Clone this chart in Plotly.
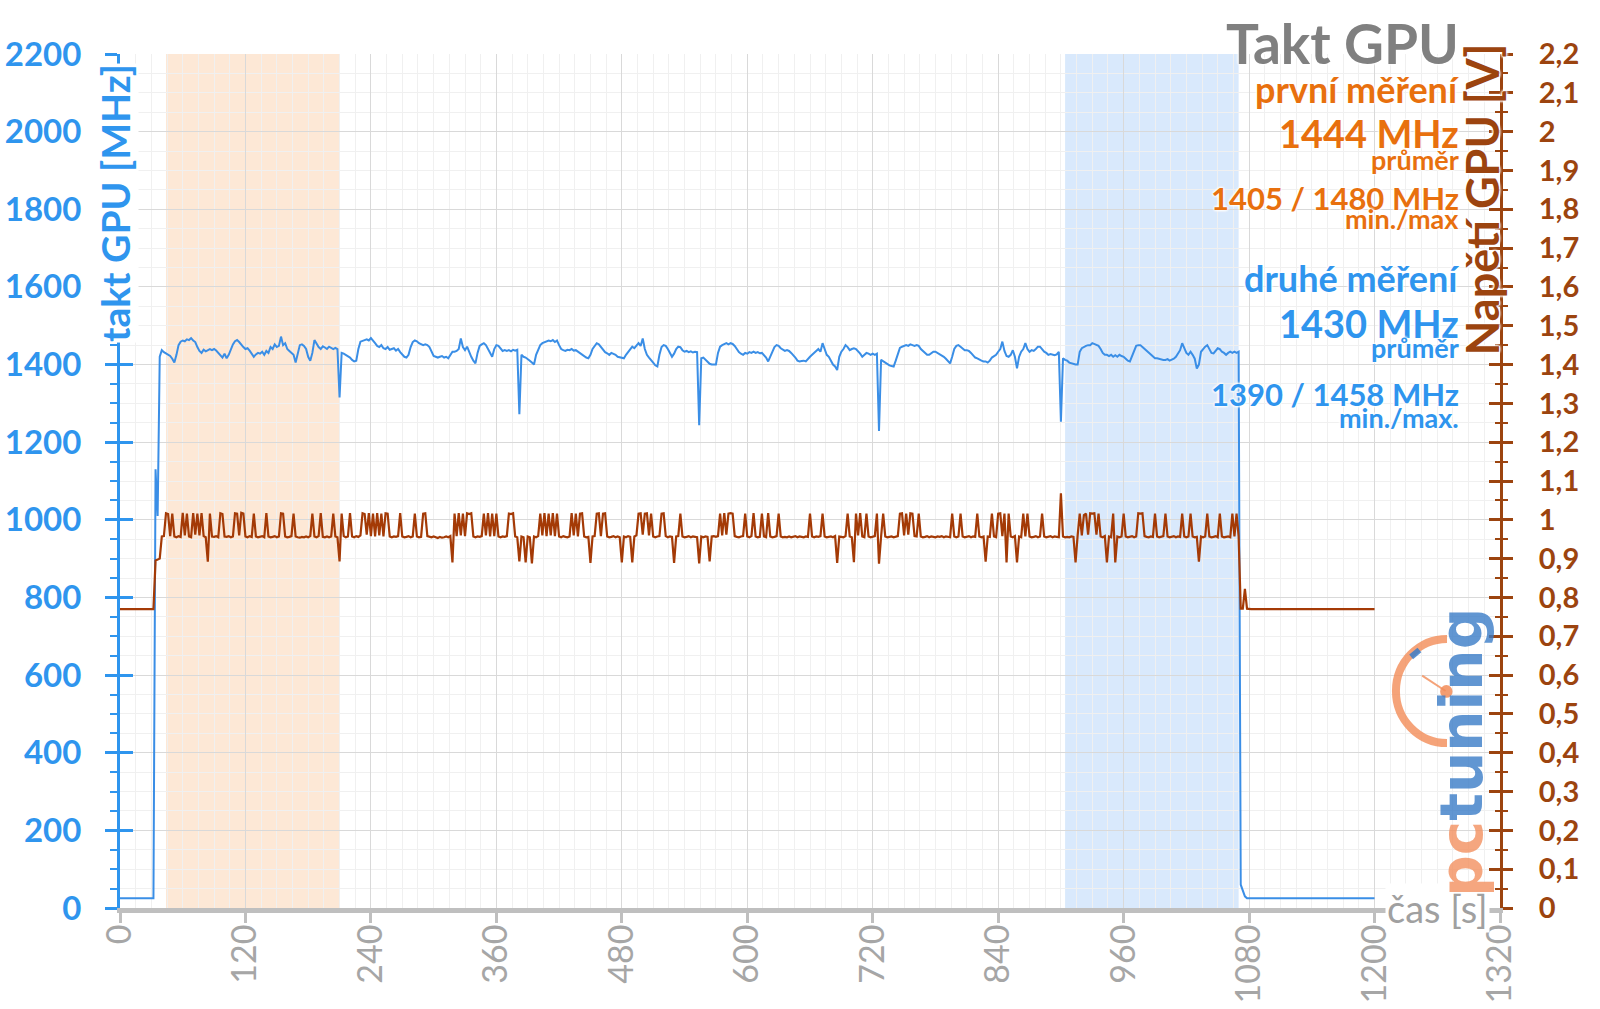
import plotly.graph_objects as go

# ---------------- data ----------------
time_step_s = 2
time_s = list(range(0, 1201, time_step_s))

clock_mhz = [
    25, 25, 25, 25, 25, 25, 25, 25, 25, 25,
    25, 25, 25, 25, 25, 25, 25, 1130, 1010, 1420,
    1437, 1432, 1428, 1425, 1422, 1415, 1405, 1425, 1450, 1459,
    1462, 1460, 1465, 1463, 1468, 1462, 1458, 1445, 1435, 1430,
    1438, 1434, 1436, 1440, 1437, 1440, 1436, 1430, 1425, 1418,
    1428, 1416, 1425, 1440, 1452, 1460, 1463, 1458, 1450, 1445,
    1440, 1442, 1436, 1428, 1420, 1426, 1430, 1428, 1433, 1425,
    1435, 1430, 1445, 1440, 1452, 1445, 1448, 1472, 1450, 1455,
    1440, 1435, 1430, 1425, 1405, 1430, 1450, 1452, 1448, 1440,
    1420, 1410, 1430, 1463, 1452, 1445, 1440, 1447, 1444, 1440,
    1446, 1442, 1440, 1443, 1440, 1315, 1430, 1428, 1425, 1420,
    1418, 1412, 1408, 1410, 1440, 1459, 1462, 1463, 1465, 1462,
    1468, 1460, 1455, 1448, 1445, 1450, 1442, 1440, 1445, 1438,
    1440, 1442, 1436, 1440, 1432, 1425, 1420, 1418, 1425, 1445,
    1458, 1462, 1460, 1455, 1452, 1450, 1452, 1450, 1445, 1435,
    1422, 1420, 1418, 1420, 1422, 1418, 1420, 1416, 1425, 1433,
    1433, 1435, 1440, 1467, 1445, 1437, 1446, 1430, 1420, 1410,
    1403, 1430, 1448, 1452, 1455, 1450, 1440, 1430, 1420, 1440,
    1450, 1448, 1440, 1435, 1437, 1435, 1437, 1434, 1438, 1436,
    1438, 1272, 1425, 1420, 1418, 1415, 1410, 1405, 1400, 1425,
    1440, 1450, 1455, 1458, 1460, 1462, 1460, 1463, 1458, 1462,
    1450, 1440, 1437, 1435, 1438, 1437, 1440, 1436, 1437, 1433,
    1430, 1425, 1420, 1418, 1416, 1425, 1440, 1448, 1455, 1452,
    1445, 1438, 1432, 1429, 1425, 1430, 1428, 1425, 1420, 1418,
    1418, 1416, 1425, 1433, 1440, 1446, 1442, 1450, 1455, 1448,
    1467, 1440, 1425, 1418, 1410, 1405, 1398, 1395, 1425, 1445,
    1450, 1448, 1440, 1430, 1420, 1428, 1440, 1446, 1445, 1437,
    1433, 1435, 1432, 1434, 1431, 1433, 1432, 1244, 1416, 1418,
    1412, 1408, 1402, 1400, 1399, 1400, 1430, 1446, 1450, 1452,
    1455, 1452, 1455, 1453, 1448, 1440, 1432, 1428, 1425, 1430,
    1428, 1432, 1430, 1433, 1430, 1432, 1429, 1430, 1425, 1418,
    1408, 1420, 1435, 1445, 1450, 1448, 1442, 1438, 1435, 1437,
    1435, 1430, 1425, 1418, 1410, 1408, 1409, 1410, 1408, 1415,
    1420, 1425, 1430, 1433, 1440, 1433, 1455, 1440, 1425, 1420,
    1410, 1400, 1395, 1386, 1420, 1433, 1440, 1450, 1445, 1437,
    1440, 1442, 1440, 1435, 1428, 1420, 1425, 1430, 1428, 1425,
    1428, 1425, 1428, 1229, 1412, 1408, 1405, 1402, 1398, 1396,
    1395, 1410, 1430, 1443, 1446, 1448, 1450, 1448, 1452, 1450,
    1448, 1450, 1448, 1440, 1435, 1430, 1425, 1425, 1430, 1433,
    1433, 1430, 1428, 1425, 1420, 1415, 1408, 1403, 1420, 1440,
    1448, 1450, 1446, 1442, 1437, 1437, 1435, 1430, 1425, 1418,
    1416, 1412, 1410, 1408, 1408, 1405, 1410, 1418, 1422, 1425,
    1433, 1440, 1459, 1435, 1422, 1420, 1425, 1437, 1420, 1390,
    1420, 1433, 1440, 1455, 1440, 1433, 1437, 1435, 1440, 1446,
    1446, 1440, 1433, 1430, 1425, 1427, 1425, 1424, 1426, 1433,
    1253, 1416, 1412, 1410, 1405, 1403, 1402, 1400, 1400, 1433,
    1442, 1446, 1448, 1450, 1450, 1455, 1452, 1450, 1448, 1440,
    1430, 1425, 1425, 1422, 1425, 1420, 1424, 1420, 1425, 1422,
    1420, 1415, 1410, 1408, 1420, 1435, 1448, 1450, 1450, 1445,
    1440, 1437, 1430, 1425, 1420, 1416, 1416, 1414, 1412, 1412,
    1412, 1414, 1410, 1412, 1415, 1420, 1430, 1437, 1455, 1440,
    1430, 1425, 1433, 1425, 1415, 1390, 1400, 1433, 1440, 1446,
    1450, 1440, 1430, 1429, 1437, 1442, 1440, 1433, 1430, 1425,
    1430, 1433, 1430, 1433, 1430, 1433, 60, 45, 30, 25,
    25, 25, 25, 25, 25, 25, 25, 25, 25, 25,
    25, 25, 25, 25, 25, 25, 25, 25, 25, 25,
    25, 25, 25, 25, 25, 25, 25, 25, 25, 25,
    25, 25, 25, 25, 25, 25, 25, 25, 25, 25,
    25, 25, 25, 25, 25, 25, 25, 25, 25, 25,
    25, 25, 25, 25, 25, 25, 25, 25, 25, 25,
    25,
]

voltage_mv = [
    770, 770, 770, 770, 770, 770, 770, 770, 770, 770,
    770, 770, 770, 770, 770, 770, 770, 895, 897, 900,
    957, 958, 1017, 1015, 958, 1016, 957, 955, 958, 956,
    1018, 960, 1016, 957, 955, 1017, 962, 1016, 960, 1017,
    958, 955, 892, 1016, 957, 956, 958, 955, 1017, 1015,
    957, 956, 958, 955, 957, 1017, 1016, 960, 1018, 1016,
    957, 955, 958, 956, 1016, 957, 955, 956, 958, 955,
    1017, 957, 955, 956, 958, 955, 957, 1017, 1016, 957,
    955, 956, 958, 1016, 957, 955, 954, 956, 955, 957,
    955, 958, 1016, 957, 955, 958, 1017, 956, 955, 957,
    955, 957, 1016, 957, 955, 893, 1016, 958, 955, 957,
    1017, 957, 955, 958, 956, 960, 1017, 1015, 962, 1017,
    958, 1016, 957, 1017, 960, 1016, 957, 1017, 1016, 957,
    955, 957, 956, 958, 1017, 957, 955, 956, 958, 955,
    957, 1016, 957, 955, 956, 1016, 1017, 958, 956, 955,
    957, 955, 953, 956, 954, 955, 957, 955, 958, 890,
    1016, 958, 1017, 960, 1016, 958, 1017, 1015, 1017, 957,
    955, 957, 956, 958, 1016, 960, 1017, 957, 1016, 958,
    1016, 957, 955, 957, 956, 958, 1016, 1015, 1017, 957,
    955, 893, 957, 955, 890, 957, 955, 888, 957, 955,
    958, 1016, 960, 1017, 958, 1016, 960, 1017, 958, 1016,
    957, 955, 958, 956, 955, 957, 1017, 960, 1016, 957,
    1016, 1017, 957, 955, 956, 889, 957, 958, 1016, 1017,
    958, 1016, 1017, 957, 955, 956, 958, 955, 957, 955,
    890, 957, 955, 958, 956, 890, 957, 960, 1016, 1017,
    962, 1016, 1017, 960, 1016, 957, 955, 957, 958, 1016,
    1017, 958, 955, 957, 956, 889, 957, 958, 1016, 957,
    955, 956, 958, 955, 957, 956, 955, 888, 957, 955,
    957, 956, 893, 957, 958, 956, 958, 1016, 960, 1017,
    962, 1016, 1017, 1016, 958, 956, 955, 957, 958, 1016,
    957, 955, 958, 1017, 957, 955, 956, 1016, 957, 955,
    1017, 957, 955, 956, 958, 1016, 957, 955, 956, 955,
    957, 955, 956, 958, 955, 957, 956, 955, 957, 956,
    1016, 957, 955, 957, 956, 958, 1016, 957, 955, 956,
    957, 955, 958, 889, 957, 956, 955, 958, 1016, 957,
    955, 891, 1016, 960, 1017, 957, 955, 1016, 957, 955,
    956, 958, 1016, 887, 957, 1016, 957, 955, 956, 957,
    955, 957, 958, 1016, 1017, 960, 1016, 962, 1017, 1016,
    958, 957, 1016, 957, 955, 956, 958, 955, 957, 956,
    955, 957, 956, 958, 955, 957, 956, 955, 1016, 957,
    955, 957, 1016, 957, 955, 956, 958, 955, 957, 956,
    1016, 957, 955, 957, 892, 957, 956, 1016, 957, 955,
    1016, 1017, 958, 1016, 890, 1016, 957, 955, 958, 890,
    957, 955, 1016, 957, 1016, 957, 955, 956, 958, 955,
    957, 1016, 957, 955, 956, 958, 955, 957, 956, 955,
    1068, 957, 955, 956, 955, 957, 956, 890, 960, 1016,
    960, 1012, 1016, 962, 1017, 1016, 1017, 962, 1016, 957,
    955, 958, 890, 957, 955, 1016, 890, 957, 955, 957,
    1016, 957, 955, 956, 958, 955, 957, 1017, 1016, 1017,
    958, 956, 955, 957, 956, 1016, 957, 955, 956, 958,
    1016, 957, 955, 956, 958, 955, 957, 956, 1016, 957,
    955, 957, 1016, 957, 955, 956, 892, 957, 955, 957,
    1016, 957, 955, 956, 958, 955, 1016, 957, 955, 956,
    957, 955, 1016, 957, 1016, 957, 771, 771, 822, 771,
    770, 770, 770, 770, 770, 770, 770, 770, 770, 770,
    770, 770, 770, 770, 770, 770, 770, 770, 770, 770,
    770, 770, 770, 770, 770, 770, 770, 770, 770, 770,
    770, 770, 770, 770, 770, 770, 770, 770, 770, 770,
    770, 770, 770, 770, 770, 770, 770, 770, 770, 770,
    770, 770, 770, 770, 770, 770, 770, 770, 770, 770,
    770,
]

band_first_s = [44, 210]     # "první měření" window
band_second_s = [904, 1070]  # "druhé měření" window

x_tick_step_s = 120
x_range_s = [0, 1320]
clock_range_mhz = [0, 2200]
clock_tick_step = 200
volt_range_v = [0, 2.2]
volt_tick_vals = [0, 0.1, 0.2, 0.3, 0.4, 0.5, 0.6, 0.7, 0.8, 0.9, 1.0,
                  1.1, 1.2, 1.3, 1.4, 1.5, 1.6, 1.7, 1.8, 1.9, 2.0, 2.1, 2.2]
volt_tick_text = ["0", "0,1", "0,2", "0,3", "0,4", "0,5", "0,6", "0,7", "0,8", "0,9", "1",
                  "1,1", "1,2", "1,3", "1,4", "1,5", "1,6", "1,7", "1,8", "1,9", "2", "2,1", "2,2"]

title_text = "Takt GPU"
first_label = ["první měření", "1444 MHz", "průměr", "1405 / 1480 MHz", "min./max"]
second_label = ["druhé měření", "1430 MHz", "průměr", "1390 / 1458 MHz", "min./max."]

voltage_v = [v / 1000 for v in voltage_mv]

# ---------------- style ----------------
FONT = "Lato"
BLUE = "#2f95ee"
BLUE_LINE = "#3a8ee6"
BROWN = "#9c440f"
BROWN_LINE = "#a43a06"
ORANGE = "#e8700e"
GRAY_AX = "#bfbfbf"
GRID = "#d9d9d9"
GRID_MINOR = "#f0f0f0"
HALO = "0px 0px 3px #fff, 0px 0px 3px #fff, 0px 0px 3px #fff, 0px 0px 3px #fff"

fig = go.Figure()
fig.add_trace(go.Scatter(x=time_s, y=clock_mhz, mode="lines",
                         line=dict(color=BLUE_LINE, width=2),
                         yaxis="y", showlegend=False, hoverinfo="skip"))
fig.add_trace(go.Scatter(x=time_s, y=voltage_v, mode="lines",
                         line=dict(color=BROWN_LINE, width=2.2),
                         yaxis="y2", showlegend=False, hoverinfo="skip"))
# empty traces so the overlay tick axes are drawn
fig.add_trace(go.Scatter(x=[], y=[], yaxis="y3", showlegend=False, hoverinfo="skip"))
fig.add_trace(go.Scatter(x=[], y=[], yaxis="y4", showlegend=False, hoverinfo="skip"))

fig.update_layout(
    width=1600, height=1009,
    margin=dict(l=120, r=100, t=54, b=101, pad=0, autoexpand=False),
    paper_bgcolor="white", plot_bgcolor="white",
    font=dict(family=FONT),
    showlegend=False,
    xaxis=dict(
        range=x_range_s, tick0=0, dtick=x_tick_step_s, automargin=False,
        ticks="outside", ticklen=10, tickwidth=3, tickcolor=GRAY_AX,
        tickangle=-90, tickfont=dict(family=FONT, size=34, color="#a6a6a6"),
        ticklabelstandoff=-12,
        showline=True, linecolor=GRAY_AX, linewidth=5,
        showgrid=True, gridcolor=GRID, gridwidth=1, zeroline=False,
        minor=dict(dtick=15, tick0=0, showgrid=True, gridcolor=GRID_MINOR, gridwidth=1),
    ),
    yaxis=dict(
        range=clock_range_mhz, tick0=0, dtick=clock_tick_step, automargin=False,
        ticks="outside", ticklen=12, tickwidth=3, tickcolor=BLUE,
        tickfont=dict(family=FONT, size=33, color=BLUE, weight="bold"),
        ticklabelstandoff=17,
        showline=True, linecolor=BLUE, linewidth=3,
        showgrid=True, gridcolor=GRID, gridwidth=1, zeroline=False,
        minor=dict(dtick=50, tick0=0, ticks="outside", ticklen=7, tickwidth=2,
                   tickcolor=BLUE, showgrid=True, gridcolor=GRID_MINOR, gridwidth=1),
    ),
    yaxis2=dict(
        overlaying="y", side="right", anchor="x", range=volt_range_v, automargin=False,
        tickmode="array", tickvals=volt_tick_vals, ticktext=volt_tick_text,
        ticks="outside", ticklen=10, tickwidth=3, tickcolor=BROWN,
        tickfont=dict(family=FONT, size=29, color=BROWN, weight="bold"),
        ticklabelstandoff=20,
        showline=True, linecolor=BROWN, linewidth=3,
        showgrid=False, zeroline=False,
        minor=dict(dtick=0.05, tick0=0, ticks="outside", ticklen=5, tickwidth=2,
                   tickcolor=BROWN, showgrid=False),
    ),
    yaxis3=dict(
        overlaying="y", side="left", anchor="x", range=clock_range_mhz, automargin=False,
        tick0=0, dtick=clock_tick_step, ticks="inside", ticklen=13, tickwidth=3,
        tickcolor=BLUE, showticklabels=False, showgrid=False, showline=False,
        zeroline=False,
    ),
    yaxis4=dict(
        overlaying="y", side="right", anchor="x", range=volt_range_v, automargin=False,
        tick0=0, dtick=0.1, ticks="inside", ticklen=11, tickwidth=3,
        tickcolor=BROWN, showticklabels=False, showgrid=False, showline=False,
        zeroline=False,
        minor=dict(dtick=0.05, tick0=0, ticks="inside", ticklen=5, tickwidth=2,
                   tickcolor=BROWN, showgrid=False),
    ),
)

# shaded measurement windows
fig.add_shape(type="rect", xref="x", yref="paper", x0=band_first_s[0], x1=band_first_s[1],
              y0=0, y1=1, fillcolor="rgba(251,213,181,0.55)", line=dict(width=0), layer="below")
fig.add_shape(type="rect", xref="x", yref="paper", x0=band_second_s[0], x1=band_second_s[1],
              y0=0, y1=1, fillcolor="rgba(180,212,250,0.5)", line=dict(width=0), layer="below")

# ---- logo decoration (gauge) ----
cx, cy, rx, ry, k = 0.9616, 0.2541, 0.0370, 0.0610, 0.5523
arc = (f"M {cx},{cy+ry} C {cx-k*rx},{cy+ry} {cx-rx},{cy+k*ry} {cx-rx},{cy} "
       f"C {cx-rx},{cy-k*ry} {cx-k*rx},{cy-ry} {cx},{cy-ry}")
fig.add_shape(type="path", xref="paper", yref="paper", path=arc,
              line=dict(color="rgba(242,140,88,0.8)", width=8))
fig.add_shape(type="line", xref="paper", yref="paper", x0=cx - 0.001, y0=cy,
              x1=cx - 0.018, y1=cy + 0.018, line=dict(color="rgba(242,140,88,0.8)", width=2))
fig.add_shape(type="circle", xref="paper", yref="paper", x0=cx - 0.005, x1=cx + 0.004,
              y0=cy - 0.008, y1=cy + 0.007, fillcolor="rgba(242,140,88,0.85)", line=dict(width=0))
fig.add_shape(type="line", xref="paper", yref="paper", x0=cx - 0.026, y0=cy + 0.04,
              x1=cx - 0.020, y1=cy + 0.048, line=dict(color="rgba(58,124,200,0.85)", width=6))

ann = []
# axis titles
ann.append(dict(text="takt GPU [MHz]", xref="paper", yref="paper", x=-0.0036, y=0.8255,
                xanchor="center", yanchor="middle", textangle=-90, showarrow=False,
                bgcolor="white", borderpad=0,
                font=dict(family=FONT, size=39, color=BLUE, weight="bold", shadow=HALO)))
ann.append(dict(text="Napětí GPU [V]", xref="paper", yref="paper", x=0.987, y=0.830,
                xanchor="center", yanchor="middle", textangle=-90, showarrow=False,
                font=dict(family=FONT, size=45, color=BROWN, weight="bold", shadow=HALO)))
ann.append(dict(text="čas [s]", xref="x", yref="y", x=1210, y=0,
                xanchor="left", yanchor="middle", showarrow=False, bgcolor="white",
                font=dict(family=FONT, size=38, color="#a0a0a0")))

# title and stats block (right aligned)
xr = 0.9715
ann.append(dict(text=title_text, xref="paper", yref="paper", x=xr, y=1.013,
                xanchor="right", yanchor="middle", showarrow=False,
                font=dict(family=FONT, size=55, color="#808080", weight="bold", shadow=HALO)))
stat_sizes = [36, 38, 27, 31, 27]
first_y = [0.9593, 0.9077, 0.8759, 0.8315, 0.8071]
second_y = [0.7379, 0.6850, 0.6569, 0.6022, 0.5738]
for txt, yy, sz in zip(first_label, first_y, stat_sizes):
    ann.append(dict(text=txt, xref="paper", yref="paper", x=xr, y=yy,
                    xanchor="right", yanchor="middle", showarrow=False,
                    font=dict(family=FONT, size=sz, color=ORANGE, weight="bold", shadow=HALO)))
for txt, yy, sz in zip(second_label, second_y, stat_sizes):
    ann.append(dict(text=txt, xref="paper", yref="paper", x=xr, y=yy,
                    xanchor="right", yanchor="middle", showarrow=False,
                    font=dict(family=FONT, size=sz, color=BLUE, weight="bold", shadow=HALO)))

# logo text
ann.append(dict(text="<span style='color:#f39160'>pc</span><span style='color:#3a7cc8'>tuning</span>",
                xref="paper", yref="paper", x=0.9723, y=0.1827, xanchor="center", yanchor="middle",
                textangle=-90, showarrow=False, opacity=0.8,
                font=dict(family="DejaVu Sans", size=58, weight="bold")))

fig.update_layout(annotations=ann)
fig.write_html("out.html", config={"displayModeBar": False},
               post_script="document.body.style.margin='0px';")
